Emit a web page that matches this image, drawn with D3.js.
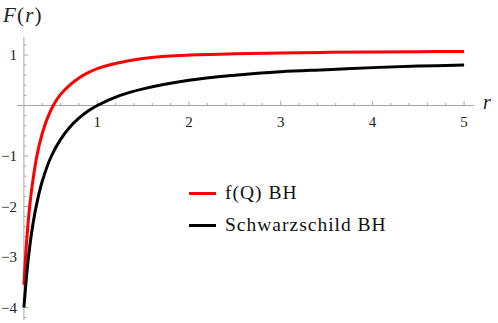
<!DOCTYPE html>
<html>
<head>
<meta charset="utf-8">
<script src="https://cdn.jsdelivr.net/npm/d3@7"></script>
<style>
html,body{margin:0;padding:0;background:#fff;}
svg{display:block;}
</style>
</head>
<body>
<script>
// Data
const rValues = [0.20, 0.22, 0.24, 0.26, 0.28, 0.30, 0.33, 0.36, 0.40, 0.45, 0.52, 0.60, 0.70, 0.80, 0.90, 1.00, 1.15, 1.30, 1.50, 1.75, 2.00, 2.50, 3.00, 3.50, 4.00, 4.50, 5.00];
const fqValues = [-3.55, -2.93, -2.45, -2.05, -1.73, -1.46, -1.11, -0.84, -0.555, -0.28, 0.0, 0.22, 0.405, 0.545, 0.65, 0.73, 0.813, 0.87, 0.93, 0.975, 0.998, 1.025, 1.042, 1.052, 1.059, 1.065, 1.07];
const rSchw = [0.2, 0.25, 0.3, 0.35, 0.4, 0.5, 0.6, 0.7, 0.8, 0.9, 1.0, 1.25, 1.5, 2.0, 2.5, 3.0, 3.5, 4.0, 4.5, 5.0];
const schwValues = [-4.0, -3.0, -2.33, -1.86, -1.5, -1.0, -0.67, -0.43, -0.25, -0.11, 0.0, 0.2, 0.33, 0.5, 0.6, 0.67, 0.71, 0.75, 0.78, 0.8];
const xTicks = [1, 2, 3, 4, 5];
const yTicks = [-4, -3, -2, -1, 1];
const seriesNames = ["f(Q) BH", "Schwarzschild BH"];
const seriesColors = ["#ff0000", "#000000"];

const W = 498, H = 323;
const FONT = '"Liberation Serif"';
const svg = d3.select("body").append("svg").attr("width", W).attr("height", H);

const x = d3.scaleLinear().domain([0.2, 5]).range([23.9, 464.1]);
const y = d3.scaleLinear().domain([-4, 1]).range([307.5, 55]);

const axisColor = "#a6a6a6";

// axes lines
svg.append("line").attr("x1", 17).attr("x2", 474).attr("y1", y(0)).attr("y2", y(0))
  .attr("stroke", axisColor).attr("stroke-width", 1);
svg.append("line").attr("x1", x(0.2)).attr("x2", x(0.2)).attr("y1", 37).attr("y2", 320)
  .attr("stroke", axisColor).attr("stroke-width", 1);

// x ticks (pointing up)
const xMinor = d3.range(0.4, 5.01, 0.2).filter(v => !xTicks.some(t => Math.abs(t - v) < 1e-6));
svg.selectAll(".xminor").data(xMinor).enter().append("line")
  .attr("x1", d => x(d)).attr("x2", d => x(d)).attr("y1", y(0)).attr("y2", y(0) - 2.5)
  .attr("stroke", axisColor);
svg.selectAll(".xmajor").data(xTicks).enter().append("line")
  .attr("x1", d => x(d)).attr("x2", d => x(d)).attr("y1", y(0)).attr("y2", y(0) - 4.5)
  .attr("stroke", axisColor);
svg.selectAll(".xlab").data(xTicks).enter().append("text")
  .attr("x", d => x(d)).attr("y", 127).attr("text-anchor", "middle")
  .style("font-family", FONT).style("font-size", "15px").attr("fill", "#222")
  .text(d => d);

// y ticks (pointing right)
const yMinor = d3.range(-4.2, 1.21, 0.2).filter(v => ![-4,-3,-2,-1,0,1].some(t => Math.abs(t - v) < 1e-6));
svg.selectAll(".yminor").data(yMinor).enter().append("line")
  .attr("x1", x(0.2)).attr("x2", x(0.2) + 2.5).attr("y1", d => y(d)).attr("y2", d => y(d))
  .attr("stroke", axisColor);
svg.selectAll(".ymajor").data(yTicks).enter().append("line")
  .attr("x1", x(0.2)).attr("x2", x(0.2) + 4.5).attr("y1", d => y(d)).attr("y2", d => y(d))
  .attr("stroke", axisColor);
svg.selectAll(".ylab").data(yTicks).enter().append("text")
  .attr("x", 17).attr("y", d => y(d) + 5).attr("text-anchor", "end")
  .style("font-family", FONT).style("font-size", "15px").attr("fill", "#222")
  .text(d => d < 0 ? "\u2212" + Math.abs(d) : d);

// axis labels
const fl = svg.append("text").attr("x", 3).attr("y", 22)
  .style("font-family", FONT).style("font-size", "21px").style("letter-spacing", "1.2px")
  .attr("fill", "#222");
fl.append("tspan").style("font-style", "italic").text("F");
fl.append("tspan").text("(");
fl.append("tspan").style("font-style", "italic").text("r");
fl.append("tspan").text(")");
svg.append("text").attr("x", 483).attr("y", 109)
  .style("font-family", FONT).style("font-style", "italic").style("font-size", "20px")
  .attr("fill", "#222").text("r");

// curves
const line = d3.line().x(d => x(d[0])).y(d => y(d[1])).curve(d3.curveCatmullRom.alpha(0.5));
const series = [d3.zip(rValues, fqValues), d3.zip(rSchw, schwValues)];
svg.selectAll(".curve").data(series).enter().append("path")
  .attr("d", line).attr("fill", "none")
  .attr("stroke", (d, i) => seriesColors[i]).attr("stroke-width", 3)
  .attr("stroke-linejoin", "round");

// legend
const leg = svg.selectAll(".leg").data(seriesNames).enter().append("g")
  .attr("transform", (d, i) => `translate(0,${193.5 + i * 32})`);
leg.append("line").attr("x1", 189).attr("x2", 216).attr("y1", 0).attr("y2", 0)
  .attr("stroke", (d, i) => seriesColors[i]).attr("stroke-width", 3);
leg.append("text").attr("x", 225).attr("y", 5.5)
  .style("font-family", FONT).style("font-size", "19.5px").style("letter-spacing", "1px")
  .attr("fill", "#111").text(d => d);
</script>
</body>
</html>
